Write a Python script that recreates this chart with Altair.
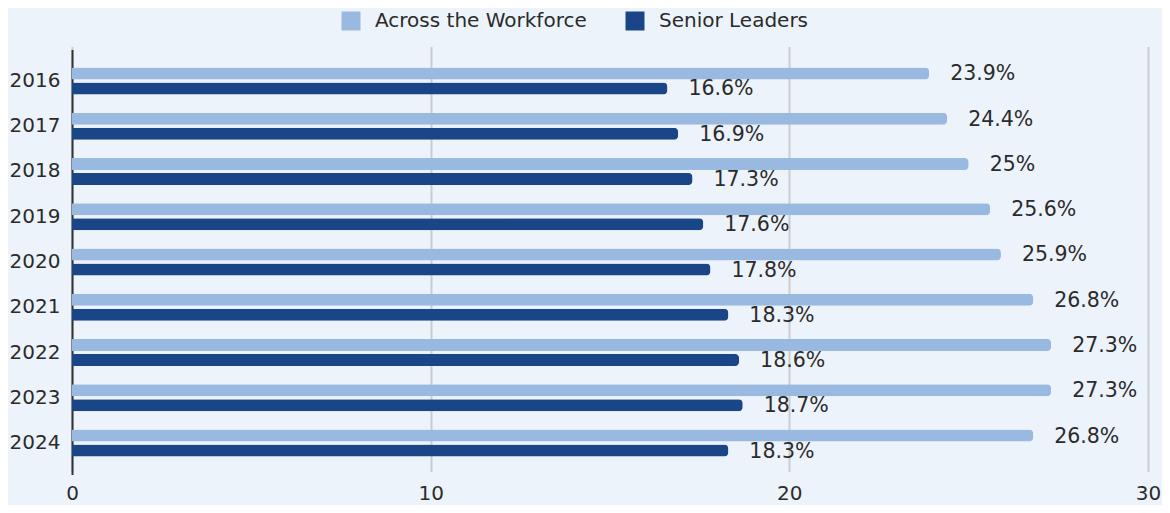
import altair as alt
import pandas as pd

years = ["2016", "2017", "2018", "2019", "2020", "2021", "2022", "2023", "2024"]
series = ["Across the Workforce", "Senior Leaders"]
workforce = [23.9, 24.4, 25, 25.6, 25.9, 26.8, 27.3, 27.3, 26.8]
senior = [16.6, 16.9, 17.3, 17.6, 17.8, 18.3, 18.6, 18.7, 18.3]
x_ticks = [0, 10, 20, 30]
colors = ["#9ab9e0", "#1a4586"]

rows = []
for y, w, s in zip(years, workforce, senior):
    rows.append({"year": y, "series": series[0], "value": w, "label": f"{w:g}%"})
    rows.append({"year": y, "series": series[1], "value": s, "label": f"{s:g}%"})
df = pd.DataFrame(rows)

FONT = "DejaVu Sans"
FS = 20

y_enc = alt.Y(
    "year:N",
    sort=years,
    title=None,
    scale=alt.Scale(paddingInner=0.403, paddingOuter=0.3975, range=[1.5, 426.5]),
    axis=alt.Axis(
        domain=True, domainColor="#333333", domainWidth=2, ticks=False,
        grid=False, labelFontSize=FS, labelFont=FONT, labelColor="#2b2b2b",
        labelPadding=12,
    ),
)
y_off = alt.YOffset("series:N", sort=series, scale=alt.Scale(paddingInner=0.2, paddingOuter=0))
x_enc = alt.X(
    "value:Q",
    title=None,
    scale=alt.Scale(domain=[0, 30], nice=False),
    axis=alt.Axis(
        values=x_ticks, domain=False, ticks=False, grid=True, gridColor="#c8cdd2",
        gridWidth=2, labelFontSize=FS, labelFont=FONT, labelColor="#2b2b2b",
        labelPadding=10, labelFlush=False,
    ),
)
color_enc = alt.Color(
    "series:N",
    sort=series,
    scale=alt.Scale(domain=series, range=colors),
    legend=alt.Legend(
        title=None, orient="none", direction="horizontal", legendX=269, legendY=-37,
        symbolType="square", symbolSize=361, symbolStrokeWidth=0, symbolOpacity=1,
        labelFontSize=FS, labelFont=FONT, labelColor="#2b2b2b", labelOffset=14,
        columnPadding=38, labelLimit=0,
    ),
)

bars = alt.Chart(df).mark_bar(cornerRadiusEnd=4).encode(
    x=x_enc, y=y_enc, yOffset=y_off, color=color_enc
)
texts = alt.Chart(df).mark_text(
    align="left", baseline="middle", dx=21, dy=1, fontSize=20.5, font=FONT, color="#2b2b2b"
).encode(x="value:Q", y=alt.Y("year:N", sort=years), yOffset=y_off, text="label:N")

chart = (
    alt.layer(bars, texts)
    .properties(
        width=1076, height=425,
        autosize=alt.AutoSizeParams(type="none"),
        padding={"left": 64, "top": 40, "right": 14, "bottom": 32},
        background="#edf3fa",
    )
    .configure_view(stroke=None)
)
chart.save("out.html", embed_options={"renderer": "svg", "actions": False})
